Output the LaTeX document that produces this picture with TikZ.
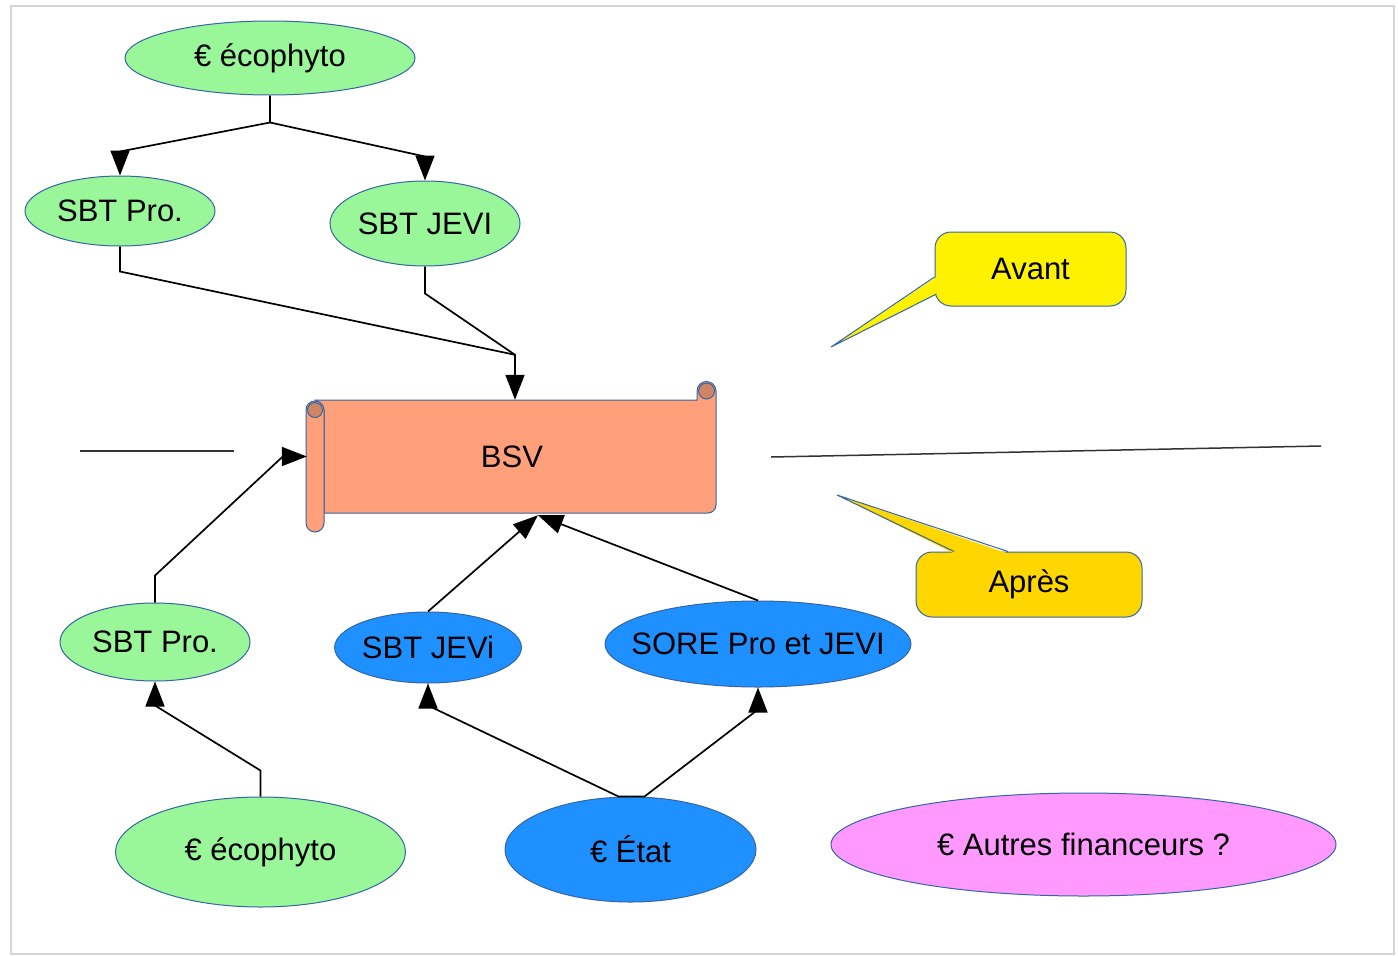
\documentclass[tikz,border=0pt]{standalone}
\usepackage{fontspec}
\setmainfont{Liberation Sans}
\usetikzlibrary{shapes.geometric,arrows.meta,calc}
\definecolor{vert}{RGB}{153,247,153}
\definecolor{bleu}{RGB}{30,144,255}
\definecolor{rose}{RGB}{255,153,255}
\definecolor{jaune}{RGB}{255,242,0}
\definecolor{orjaune}{RGB}{255,215,0}
\definecolor{saumon}{RGB}{255,160,122}
\definecolor{saumonfonce}{RGB}{207,133,100}
\definecolor{contour}{RGB}{52,101,164}
\definecolor{cadre}{RGB}{212,212,212}
\tikzset{
  bulle/.style={ellipse, draw=contour, line width=1pt, inner sep=0pt},
  boite/.style={rectangle, draw=contour, line width=1pt, rounded corners=16pt, inner sep=0pt},
  rouleau/.style={fill=saumon, draw=contour, line width=1pt},
  fleche/.style={-{Triangle[length=25pt,width=19pt]}, line width=1.7pt},
  ligne/.style={line width=1.7pt},
  trait/.style={line width=1.5pt, black!80},
}
\begin{document}
\begin{tikzpicture}[x=1pt, y=-1pt, font=\fontsize{31pt}{36pt}\selectfont]
\useasboundingbox (0,0) rectangle (1398,956);
\draw[cadre, line width=1.5pt] (11,6) rectangle (1394,954);
%
\filldraw[rouleau] (315,400) -- (697,400) -- (697,391) arc[start angle=180, end angle=0, radius=9.5pt]
  -- (716,505) arc[start angle=0, end angle=-90, radius=8pt] -- (324,513) -- (324,410) -- cycle;
\filldraw[fill=saumonfonce, draw=contour, line width=1pt] (706.5,391) circle[radius=8pt];
\filldraw[rouleau] (306,410) -- (306,523) arc[start angle=180, end angle=360, radius=9pt]
  -- (324,410) arc[start angle=0, end angle=180, radius=9pt] -- cycle;
\filldraw[fill=saumonfonce, draw=contour, line width=1pt] (315,410) circle[radius=7.5pt];
\node[minimum width=410pt, minimum height=113pt, inner sep=0pt](B)at(512,456.5){BSV};
%
\node[bulle, fill=vert, minimum width=290pt, minimum height=74pt](E1)at(270,58){€ écophyto};
\node[bulle, fill=vert, minimum width=190pt, minimum height=70pt](P1)at(120,211){SBT Pro.};
\node[bulle, fill=vert, minimum width=190pt, minimum height=85pt](J1)at(425,223.5){SBT JEVI};
\node[bulle, fill=vert, minimum width=190pt, minimum height=78pt](P2)at(155,642){SBT Pro.};
\node[bulle, fill=bleu, minimum width=186pt, minimum height=71pt](J2)at(428,647.5){SBT JEVi};
\node[bulle, fill=bleu, minimum width=306pt, minimum height=86pt](SO)at(758,644){\makebox[0pt]{SORE Pro et JEVI}};
\node[bulle, fill=vert, minimum width=290pt, minimum height=110pt](E2)at(260.5,852){€ écophyto};
\node[bulle, fill=bleu, minimum width=251pt, minimum height=105pt](ET)at(630.5,849.5){€ État};
\node[bulle, fill=rose, minimum width=505pt, minimum height=103pt](AF)at(1083.5,844.5){€ Autres financeurs ?};
%
\node[boite, fill=jaune, minimum width=191pt, minimum height=74pt](AV)at(1030.5,269){Avant};
\coordinate(AVt)at(831,347);
\fill[jaune] ($(AV.west)+(2,8)$) -- (AVt) -- ($(AV.west)+(3,25)$) -- cycle;
\draw[contour, line width=1pt] ($(AV.west)+(0,8)$) -- (AVt) -- ($(AV.west)+(2,25)$);
\node[boite, fill=orjaune, minimum width=226pt, minimum height=65pt](AP)at(1029,584.5){Après};
\coordinate(APt)at(837,495);
\fill[orjaune] ($(AP.north)+(-75,2)$) -- (APt) -- ($(AP.north)+(-21,2)$) -- cycle;
\draw[contour, line width=1pt] ($(AP.north)+(-75,0)$) -- (APt) -- ($(AP.north)+(-21,0)$);
%
\draw[trait] (80,451) -- (234,451);
\draw[trait] (771,457) -- (1321,446);
%
\draw[fleche](E1.south)--++(0,27)coordinate(E1b)--($(P1.north)+(0,-24)$)--(P1.north);
\draw[fleche](E1b)--($(J1.north)+(0,-24)$)--(J1.north);
\draw[fleche](P1.south)--++(0,25)--($(B.north)+(3,-45)$)--($(B.north)+(3,0)$);
\draw[ligne](J1.south)--++(0,27)--($(B.north)+(3,-45)$);
\draw[fleche](P2.north)--++(0,-27)--($(B.west)+(-24,0)$)--(B.west);
\draw[fleche](J2.north)--($(B.south)+(26,2)$);
\draw[fleche](SO.north)--($(B.south)+(26,2)$);
\draw[fleche](E2.north)--++(0,-26)--($(P2.south)+(0,24)$)--(P2.south);
\draw[fleche](ET.north)--++(-12,0)--($(J2.south)+(0,22)$)--(J2.south);
\draw[fleche](ET.north)--++(14,0)--($(SO.south)+(0,22)$)--(SO.south);
\end{tikzpicture}
\end{document}
